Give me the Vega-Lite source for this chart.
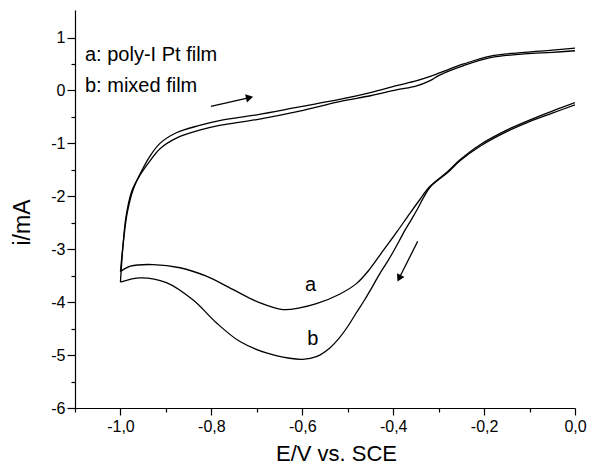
{
  "$schema": "https://vega.github.io/schema/vega-lite/v6.json",
  "width": 500,
  "height": 398,
  "autosize": "none",
  "padding": {"left": 75, "top": 10, "right": 17, "bottom": 66},
  "background": "white",
  "config": {
    "view": {"stroke": null},
    "font": "Liberation Sans",
    "axis": {"grid": false, "domainColor": "black", "tickColor": "black", "labelColor": "black", "titleColor": "black", "domainWidth": 1.2, "tickWidth": 1.2, "labelFont": "Liberation Sans", "titleFont": "Liberation Sans", "titleFontWeight": "normal", "labelFontSize": 16}
  },
  "datasets": {
    "curves": [
      {"series": "a", "branch": "cathodic", "i": 0, "E": 0.0, "I": -0.23},
      {"series": "a", "branch": "cathodic", "i": 1, "E": -0.05, "I": -0.39},
      {"series": "a", "branch": "cathodic", "i": 2, "E": -0.1, "I": -0.56},
      {"series": "a", "branch": "cathodic", "i": 3, "E": -0.148, "I": -0.74},
      {"series": "a", "branch": "cathodic", "i": 4, "E": -0.208, "I": -1.02},
      {"series": "a", "branch": "cathodic", "i": 5, "E": -0.253, "I": -1.31},
      {"series": "a", "branch": "cathodic", "i": 6, "E": -0.28, "I": -1.53},
      {"series": "a", "branch": "cathodic", "i": 7, "E": -0.32, "I": -1.82},
      {"series": "a", "branch": "cathodic", "i": 8, "E": -0.342, "I": -2.07},
      {"series": "a", "branch": "cathodic", "i": 9, "E": -0.364, "I": -2.33},
      {"series": "a", "branch": "cathodic", "i": 10, "E": -0.39, "I": -2.65},
      {"series": "a", "branch": "cathodic", "i": 11, "E": -0.406, "I": -2.84},
      {"series": "a", "branch": "cathodic", "i": 12, "E": -0.425, "I": -3.06},
      {"series": "a", "branch": "cathodic", "i": 13, "E": -0.452, "I": -3.38},
      {"series": "a", "branch": "cathodic", "i": 14, "E": -0.481, "I": -3.65},
      {"series": "a", "branch": "cathodic", "i": 15, "E": -0.518, "I": -3.85},
      {"series": "a", "branch": "cathodic", "i": 16, "E": -0.569, "I": -4.03},
      {"series": "a", "branch": "cathodic", "i": 17, "E": -0.606, "I": -4.11},
      {"series": "a", "branch": "cathodic", "i": 18, "E": -0.643, "I": -4.14},
      {"series": "a", "branch": "cathodic", "i": 19, "E": -0.694, "I": -4.01},
      {"series": "a", "branch": "cathodic", "i": 20, "E": -0.753, "I": -3.76},
      {"series": "a", "branch": "cathodic", "i": 21, "E": -0.811, "I": -3.51},
      {"series": "a", "branch": "cathodic", "i": 22, "E": -0.869, "I": -3.35},
      {"series": "a", "branch": "cathodic", "i": 23, "E": -0.928, "I": -3.29},
      {"series": "a", "branch": "cathodic", "i": 24, "E": -0.978, "I": -3.32},
      {"series": "a", "branch": "cathodic", "i": 25, "E": -1.0, "I": -3.42},
      {"series": "a", "branch": "anodic", "i": 25, "E": -1.0, "I": -3.42},
      {"series": "a", "branch": "anodic", "i": 26, "E": -0.993, "I": -2.82},
      {"series": "a", "branch": "anodic", "i": 27, "E": -0.985, "I": -2.31},
      {"series": "a", "branch": "anodic", "i": 28, "E": -0.972, "I": -1.87},
      {"series": "a", "branch": "anodic", "i": 29, "E": -0.954, "I": -1.53},
      {"series": "a", "branch": "anodic", "i": 30, "E": -0.935, "I": -1.24},
      {"series": "a", "branch": "anodic", "i": 31, "E": -0.913, "I": -1.0},
      {"series": "a", "branch": "anodic", "i": 32, "E": -0.877, "I": -0.8},
      {"series": "a", "branch": "anodic", "i": 33, "E": -0.826, "I": -0.66},
      {"series": "a", "branch": "anodic", "i": 34, "E": -0.782, "I": -0.57},
      {"series": "a", "branch": "anodic", "i": 35, "E": -0.7, "I": -0.46},
      {"series": "a", "branch": "anodic", "i": 36, "E": -0.606, "I": -0.31},
      {"series": "a", "branch": "anodic", "i": 37, "E": -0.518, "I": -0.17},
      {"series": "a", "branch": "anodic", "i": 38, "E": -0.45, "I": -0.04},
      {"series": "a", "branch": "anodic", "i": 39, "E": -0.393, "I": 0.09},
      {"series": "a", "branch": "anodic", "i": 40, "E": -0.35, "I": 0.18},
      {"series": "a", "branch": "anodic", "i": 41, "E": -0.32, "I": 0.26},
      {"series": "a", "branch": "anodic", "i": 42, "E": -0.298, "I": 0.33},
      {"series": "a", "branch": "anodic", "i": 43, "E": -0.245, "I": 0.5},
      {"series": "a", "branch": "anodic", "i": 44, "E": -0.186, "I": 0.65},
      {"series": "a", "branch": "anodic", "i": 45, "E": -0.111, "I": 0.72},
      {"series": "a", "branch": "anodic", "i": 46, "E": -0.05, "I": 0.76},
      {"series": "a", "branch": "anodic", "i": 47, "E": 0.0, "I": 0.8},
      {"series": "b", "branch": "cathodic", "i": 0, "E": 0.0, "I": -0.27},
      {"series": "b", "branch": "cathodic", "i": 1, "E": -0.05, "I": -0.43},
      {"series": "b", "branch": "cathodic", "i": 2, "E": -0.1, "I": -0.59},
      {"series": "b", "branch": "cathodic", "i": 3, "E": -0.148, "I": -0.77},
      {"series": "b", "branch": "cathodic", "i": 4, "E": -0.208, "I": -1.05},
      {"series": "b", "branch": "cathodic", "i": 5, "E": -0.253, "I": -1.33},
      {"series": "b", "branch": "cathodic", "i": 6, "E": -0.28, "I": -1.55},
      {"series": "b", "branch": "cathodic", "i": 7, "E": -0.318, "I": -1.82},
      {"series": "b", "branch": "cathodic", "i": 8, "E": -0.333, "I": -2.02},
      {"series": "b", "branch": "cathodic", "i": 9, "E": -0.346, "I": -2.23},
      {"series": "b", "branch": "cathodic", "i": 10, "E": -0.36, "I": -2.44},
      {"series": "b", "branch": "cathodic", "i": 11, "E": -0.374, "I": -2.64},
      {"series": "b", "branch": "cathodic", "i": 12, "E": -0.386, "I": -2.83},
      {"series": "b", "branch": "cathodic", "i": 13, "E": -0.398, "I": -3.02},
      {"series": "b", "branch": "cathodic", "i": 14, "E": -0.413, "I": -3.24},
      {"series": "b", "branch": "cathodic", "i": 15, "E": -0.43, "I": -3.47},
      {"series": "b", "branch": "cathodic", "i": 16, "E": -0.446, "I": -3.71},
      {"series": "b", "branch": "cathodic", "i": 17, "E": -0.463, "I": -3.96},
      {"series": "b", "branch": "cathodic", "i": 18, "E": -0.481, "I": -4.2},
      {"series": "b", "branch": "cathodic", "i": 19, "E": -0.5, "I": -4.46},
      {"series": "b", "branch": "cathodic", "i": 20, "E": -0.518, "I": -4.67},
      {"series": "b", "branch": "cathodic", "i": 21, "E": -0.54, "I": -4.87},
      {"series": "b", "branch": "cathodic", "i": 22, "E": -0.569, "I": -5.03},
      {"series": "b", "branch": "cathodic", "i": 23, "E": -0.599, "I": -5.08},
      {"series": "b", "branch": "cathodic", "i": 24, "E": -0.628, "I": -5.06},
      {"series": "b", "branch": "cathodic", "i": 25, "E": -0.679, "I": -4.96},
      {"series": "b", "branch": "cathodic", "i": 26, "E": -0.738, "I": -4.74},
      {"series": "b", "branch": "cathodic", "i": 27, "E": -0.789, "I": -4.39},
      {"series": "b", "branch": "cathodic", "i": 28, "E": -0.84, "I": -3.96},
      {"series": "b", "branch": "cathodic", "i": 29, "E": -0.899, "I": -3.63},
      {"series": "b", "branch": "cathodic", "i": 30, "E": -0.956, "I": -3.54},
      {"series": "b", "branch": "cathodic", "i": 31, "E": -1.0, "I": -3.62},
      {"series": "b", "branch": "anodic", "i": 31, "E": -1.0, "I": -3.62},
      {"series": "b", "branch": "anodic", "i": 32, "E": -0.995, "I": -3.0},
      {"series": "b", "branch": "anodic", "i": 33, "E": -0.988, "I": -2.4},
      {"series": "b", "branch": "anodic", "i": 34, "E": -0.975, "I": -1.9},
      {"series": "b", "branch": "anodic", "i": 35, "E": -0.957, "I": -1.6},
      {"series": "b", "branch": "anodic", "i": 36, "E": -0.935, "I": -1.33},
      {"series": "b", "branch": "anodic", "i": 37, "E": -0.913, "I": -1.1},
      {"series": "b", "branch": "anodic", "i": 38, "E": -0.877, "I": -0.9},
      {"series": "b", "branch": "anodic", "i": 39, "E": -0.826, "I": -0.75},
      {"series": "b", "branch": "anodic", "i": 40, "E": -0.782, "I": -0.66},
      {"series": "b", "branch": "anodic", "i": 41, "E": -0.7, "I": -0.55},
      {"series": "b", "branch": "anodic", "i": 42, "E": -0.606, "I": -0.39},
      {"series": "b", "branch": "anodic", "i": 43, "E": -0.518, "I": -0.21},
      {"series": "b", "branch": "anodic", "i": 44, "E": -0.45, "I": -0.1},
      {"series": "b", "branch": "anodic", "i": 45, "E": -0.393, "I": 0.01},
      {"series": "b", "branch": "anodic", "i": 46, "E": -0.35, "I": 0.08},
      {"series": "b", "branch": "anodic", "i": 47, "E": -0.32, "I": 0.18},
      {"series": "b", "branch": "anodic", "i": 48, "E": -0.298, "I": 0.29},
      {"series": "b", "branch": "anodic", "i": 49, "E": -0.245, "I": 0.47},
      {"series": "b", "branch": "anodic", "i": 50, "E": -0.186, "I": 0.62},
      {"series": "b", "branch": "anodic", "i": 51, "E": -0.111, "I": 0.69},
      {"series": "b", "branch": "anodic", "i": 52, "E": -0.05, "I": 0.72},
      {"series": "b", "branch": "anodic", "i": 53, "E": 0.0, "I": 0.75}
    ],
    "arrows": [
      {"arrow": "anodic", "E": -0.801, "I": -0.3, "E2": -0.716, "I2": -0.135},
      {"arrow": "cathodic", "E": -0.346, "I": -2.85, "E2": -0.387, "I2": -3.55}
    ],
    "labels": [
      {"text": "a: poly-I Pt film", "kind": "legend", "E": -1.078, "I": 0.55},
      {"text": "b: mixed film", "kind": "legend", "E": -1.078, "I": -0.02},
      {"text": "a", "kind": "curve", "E": -0.582, "I": -3.685},
      {"text": "b", "kind": "curve", "E": -0.577, "I": -4.7}
    ]
  },
  "encoding": {
    "x": {
      "field": "E", "type": "quantitative",
      "scale": {"domain": [-1.1, 0], "nice": false, "zero": false},
      "axis": {
        "title": "E/V vs. SCE",
        "titleFontSize": 22,
        "titleX": 261,
        "titleY": 52,
        "titleAlign": "center",
        "titleBaseline": "alphabetic",
        "values": [-1.1, -1.0, -0.9, -0.8, -0.7, -0.6, -0.5, -0.4, -0.3, -0.2, -0.1, 0.0],
        "labelExpr": "round(datum.value*10) % 2 === 0 ? replace((datum.value < -0.001 ? '-' : '') + format(abs(datum.value), '.1f'), '.', ',') : ''",
        "tickSize": {"condition": {"test": "round(datum.value*10) % 2 === 0", "value": 7}, "value": 4},
        "labelPadding": 3,
        "labelFlush": false,
        "labelOverlap": false
      }
    },
    "y": {
      "field": "I", "type": "quantitative",
      "scale": {"domain": [-6, 1.52], "nice": false, "zero": false},
      "axis": {
        "title": "i/mA",
        "titleFontSize": 23,
        "titleX": -53,
        "titleY": 212,
        "titleAngle": -90,
        "titleAlign": "center",
        "titleBaseline": "middle",
        "values": [-6, -5.5, -5, -4.5, -4, -3.5, -3, -2.5, -2, -1.5, -1, -0.5, 0, 0.5, 1],
        "labelExpr": "round(datum.value*2) % 2 === 0 ? (datum.value < -0.001 ? '-' : '') + format(abs(datum.value), 'd') : ''",
        "tickSize": {"condition": {"test": "round(datum.value*2) % 2 === 0", "value": 8}, "value": 4},
        "labelPadding": 2,
        "labelFlush": false,
        "labelOverlap": false
      }
    }
  },
  "layer": [
    {
      "data": {"name": "curves"},
      "mark": {"type": "line", "color": "black", "strokeWidth": 1.3, "interpolate": "catmull-rom", "clip": true},
      "encoding": {
        "detail": [{"field": "series", "type": "nominal"}, {"field": "branch", "type": "nominal"}],
        "order": {"field": "i", "type": "quantitative"}
      }
    },
    {
      "data": {"name": "arrows"},
      "mark": {"type": "rule", "color": "black", "strokeWidth": 1.3},
      "encoding": {
        "x2": {"field": "E2"},
        "y2": {"field": "I2"}
      }
    },
    {
      "data": {"name": "arrows"},
      "transform": [{"filter": "datum.arrow === 'anodic'"}],
      "mark": {"type": "point", "shape": "triangle-up", "filled": true, "color": "black", "size": 70, "angle": 77, "opacity": 1},
      "encoding": {
        "x": {"field": "E2", "type": "quantitative"},
        "y": {"field": "I2", "type": "quantitative"}
      }
    },
    {
      "data": {"name": "arrows"},
      "transform": [{"filter": "datum.arrow === 'cathodic'"}],
      "mark": {"type": "point", "shape": "triangle-up", "filled": true, "color": "black", "size": 70, "angle": 207, "opacity": 1},
      "encoding": {
        "x": {"field": "E2", "type": "quantitative"},
        "y": {"field": "I2", "type": "quantitative"}
      }
    },
    {
      "data": {"name": "labels"},
      "transform": [{"filter": "datum.kind === 'legend'"}],
      "mark": {"type": "text", "align": "left", "baseline": "alphabetic", "fontSize": 20, "color": "black"},
      "encoding": {"text": {"field": "text"}}
    },
    {
      "data": {"name": "labels"},
      "transform": [{"filter": "datum.kind === 'curve'"}],
      "mark": {"type": "text", "align": "center", "baseline": "middle", "fontSize": 20, "color": "black"},
      "encoding": {"text": {"field": "text"}}
    }
  ]
}
